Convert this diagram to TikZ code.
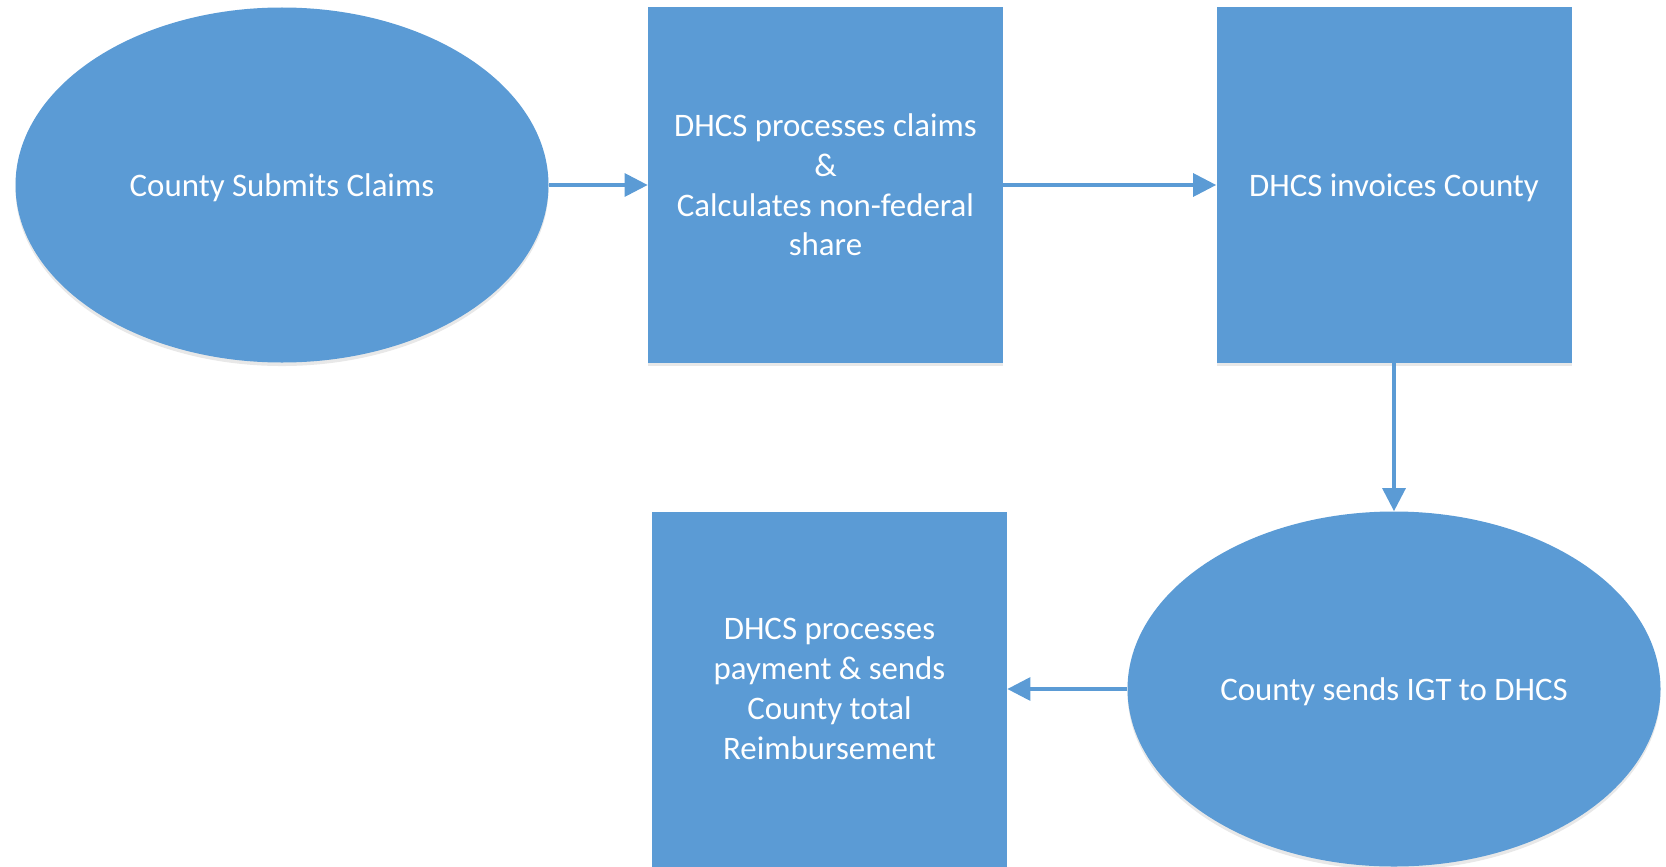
\documentclass[tikz,border=0pt]{standalone}
\usepackage{fontspec}
\setmainfont{Carlito}
\usetikzlibrary{arrows.meta, positioning, shapes.geometric, shadows}
\definecolor{flowblue}{RGB}{91,155,213}

\begin{document}
\begin{tikzpicture}[
    stage/.style={fill=flowblue,text=white,align=center,inner sep=0pt,
                  font=\fontsize{18.7}{22.6}\selectfont,
                  drop shadow={shadow xshift=0pt,shadow yshift=-2pt,opacity=0.18}},
    oval/.style={stage,ellipse,minimum width=10.66cm,minimum height=7.1cm},
    sqbox/.style={stage,rectangle,minimum width=7.1cm,minimum height=7.1cm},
    oneline/.style={text height=19.4pt,text depth=6.8pt},
    arr/.style={-{Triangle[length=0.46cm,width=0.46cm]},flowblue,line width=1.8pt}
]
  \useasboundingbox (0,0) rectangle (33.32,-17.32);

  % Top row
  \node[oval,oneline] (submit) at (5.64,-3.70) {County Submits Claims};
  \node[sqbox] (process) at (16.51,-3.70) {DHCS processes claims\\\&\\Calculates non-federal\\share};
  \node[sqbox,oneline] (invoice) at (27.88,-3.70) {DHCS invoices County};

  % Bottom row
  \node[oval,oneline] (igt) at (27.88,-13.78) {County sends IGT to DHCS};
  \node[sqbox] (payment) at (16.59,-13.78) {DHCS processes\\payment \& sends\\County total\\Reimbursement};

  % Arrows
  \draw[arr] (submit) -- (process);
  \draw[arr] (process) -- (invoice);
  \draw[arr] (invoice) -- (igt);
  \draw[arr] (igt) -- (payment);
\end{tikzpicture}
\end{document}
